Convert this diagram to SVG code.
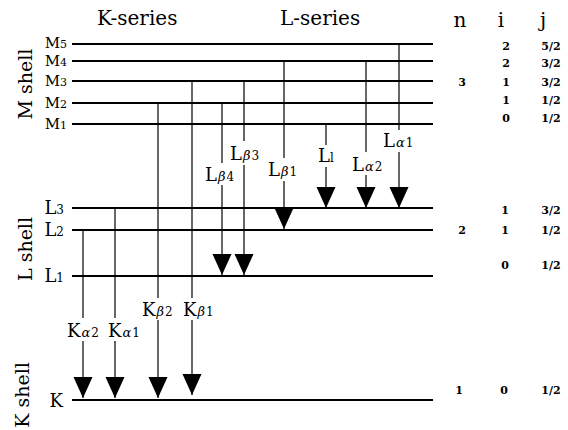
<svg xmlns="http://www.w3.org/2000/svg" width="568" height="430" viewBox="0 0 568 430">
<style>
  text { font-family: "DejaVu Serif", "Liberation Serif", serif; fill: #000; }
  .title { font-size: 20px; }
  .shell { font-size: 19px; text-anchor: middle; }
  .lvl { font-size: 18px; text-anchor: end; }
  .mlvl { font-size: 15px; text-anchor: end; }
  .tr { font-size: 18px; }
  .sub { font-size: 12px; }
  .msub { font-size: 11px; }
  .gr { font-size: 13px; font-style: italic; }
  .hd { font-size: 20px; text-anchor: middle; }
  .num { font-size: 11px; font-weight: bold; text-anchor: middle; }
  .lev { stroke: #000; stroke-width: 1.8; fill: none; }
  .tl { stroke: #000; stroke-width: 1.2; fill: none; }
  .arr { marker-end: url(#ah); }
</style>
<defs>
  <marker id="ah" markerUnits="userSpaceOnUse" markerWidth="22" markerHeight="20" refX="21" refY="9.5" orient="auto" viewBox="0 0 22 20">
    <path d="M0,0 L21,9.5 L0,19 Z" fill="#000"/>
  </marker>
</defs>
<rect width="568" height="430" fill="#fff"/>

<g id="headers">
  <text class="title" x="97" y="25">K-series</text>
  <text class="title" x="280" y="25">L-series</text>
  <text class="hd" x="460" y="27">n</text>
  <text class="hd" x="501" y="27">i</text>
  <text class="hd" x="543" y="27">j</text>
</g>

<g id="shells">
  <text class="shell" transform="translate(32,84) rotate(-90)">M shell</text>
  <text class="shell" transform="translate(32,249) rotate(-90)">L shell</text>
  <text class="shell" transform="translate(29,395) rotate(-90)">K shell</text>
</g>

<g id="M5"><line class="lev" x1="72" y1="44" x2="433" y2="44"/><text class="mlvl" x="67" y="48">M<tspan class="msub">5</tspan></text>
  <text class="num" x="506" y="50">2</text><text class="num" x="551" y="50">5/2</text></g>
<g id="M4"><line class="lev" x1="72" y1="61" x2="433" y2="61"/><text class="mlvl" x="67" y="66">M<tspan class="msub">4</tspan></text>
  <text class="num" x="506" y="67">2</text><text class="num" x="551" y="67">3/2</text></g>
<g id="M3"><line class="lev" x1="72" y1="81" x2="433" y2="81"/><text class="mlvl" x="67" y="86">M<tspan class="msub">3</tspan></text>
  <text class="num" x="462" y="86">3</text><text class="num" x="506" y="86">1</text><text class="num" x="551" y="86">3/2</text></g>
<g id="M2"><line class="lev" x1="72" y1="103" x2="433" y2="103"/><text class="mlvl" x="67" y="108">M<tspan class="msub">2</tspan></text>
  <text class="num" x="506" y="104">1</text><text class="num" x="551" y="104">1/2</text></g>
<g id="M1"><line class="lev" x1="72" y1="124" x2="433" y2="124"/><text class="mlvl" x="67" y="129">M<tspan class="msub">1</tspan></text>
  <text class="num" x="506" y="122">0</text><text class="num" x="551" y="122">1/2</text></g>
<g id="L3"><line class="lev" x1="72" y1="208" x2="433" y2="208"/><text class="lvl" x="64" y="214">L<tspan class="sub">3</tspan></text>
  <text class="num" x="505" y="214">1</text><text class="num" x="551" y="214">3/2</text></g>
<g id="L2"><line class="lev" x1="72" y1="230" x2="433" y2="230"/><text class="lvl" x="64" y="236">L<tspan class="sub">2</tspan></text>
  <text class="num" x="462" y="234">2</text><text class="num" x="505" y="234">1</text><text class="num" x="551" y="234">1/2</text></g>
<g id="L1"><line class="lev" x1="72" y1="276" x2="433" y2="276"/><text class="lvl" x="64" y="282">L<tspan class="sub">1</tspan></text>
  <text class="num" x="505" y="269">0</text><text class="num" x="551" y="269">1/2</text></g>
<g id="K"><line class="lev" x1="72" y1="400" x2="433" y2="400"/><text class="lvl" x="63" y="407">K</text>
  <text class="num" x="459" y="394">1</text><text class="num" x="504" y="394">0</text><text class="num" x="551" y="394">1/2</text></g>

<g id="connectors">
  <!-- K series -->
  <path class="tl" d="M83,230 V318"/><path class="tl arr" d="M83,341 V398"/>
  <path class="tl" d="M115,208 V318"/><path class="tl arr" d="M115,341 V398"/>
  <path class="tl" d="M158,103 V298"/><path class="tl arr" d="M158,320 V398"/>
  <path class="tl" d="M192,81 V298"/><path class="tl arr" d="M192,320 V395"/>
  <!-- L series -->
  <path class="tl" d="M222,103 V163"/><path class="tl arr" d="M222,185 V275"/>
  <path class="tl" d="M244,81 V141"/><path class="tl arr" d="M244,165 V275"/>
  <path class="tl" d="M284,61 V158"/><path class="tl arr" d="M284,181 V229"/>
  <path class="tl" d="M326,124 V145"/><path class="tl arr" d="M326,167 V208"/>
  <path class="tl" d="M366,61 V152"/><path class="tl arr" d="M366,175 V208"/>
  <path class="tl" d="M399,44 V130"/><path class="tl arr" d="M399,152 V208"/>
</g>

<g id="labels">
  <text class="tr" x="67" y="337">K<tspan class="gr" dx="1">α</tspan><tspan class="sub" dx="1">2</tspan></text>
  <text class="tr" x="108" y="337">K<tspan class="gr" dx="1">α</tspan><tspan class="sub" dx="1">1</tspan></text>
  <text class="tr" x="142" y="316">K<tspan class="gr" dx="1">β</tspan><tspan class="sub" dx="1">2</tspan></text>
  <text class="tr" x="183" y="316">K<tspan class="gr" dx="1">β</tspan><tspan class="sub" dx="1">1</tspan></text>
  <text class="tr" x="205" y="181">L<tspan class="gr" dx="1">β</tspan><tspan class="sub" dx="1">4</tspan></text>
  <text class="tr" x="230" y="160">L<tspan class="gr" dx="1">β</tspan><tspan class="sub" dx="1">3</tspan></text>
  <text class="tr" x="268" y="176">L<tspan class="gr" dx="1">β</tspan><tspan class="sub" dx="1">1</tspan></text>
  <text class="tr" x="318" y="162">L<tspan class="sub">l</tspan></text>
  <text class="tr" x="352" y="171">L<tspan class="gr" dx="1">α</tspan><tspan class="sub" dx="1">2</tspan></text>
  <text class="tr" x="383" y="147">L<tspan class="gr" dx="1">α</tspan><tspan class="sub" dx="1">1</tspan></text>
</g>
</svg>
